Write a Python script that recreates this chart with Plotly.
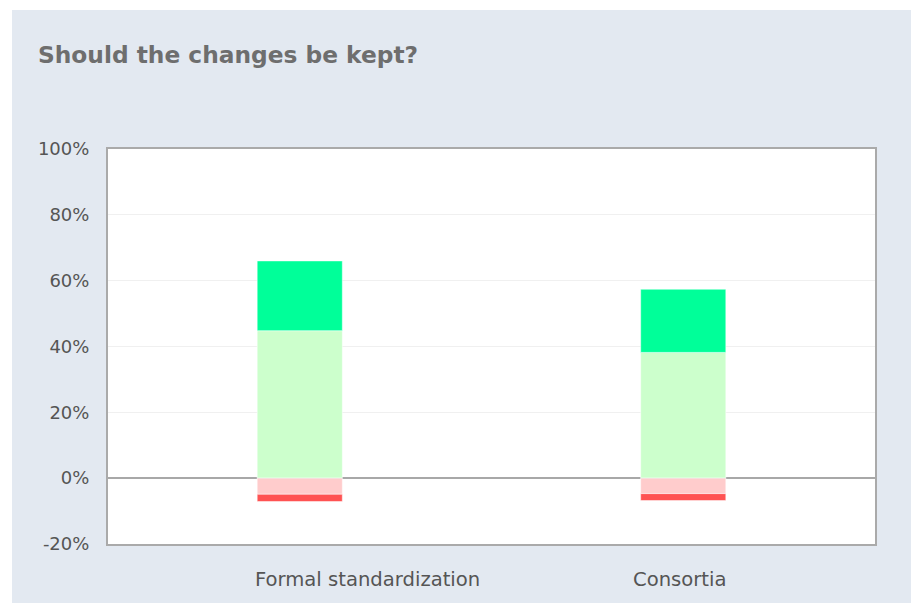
import plotly.graph_objects as go

categories = ["Formal standardization", "Consortia"]
keep_yes = [44.8, 38.2]          # light green, stacked from zero
keep_strong_yes = [21.2, 19.2]   # dark green, on top
keep_no = [-4.9, -4.7]           # pink, below zero
keep_strong_no = [-2.2, -2.1]    # red, under the pink

y_ticks = [-20, 0, 20, 40, 60, 80, 100]
y_tick_labels = ["-20%", "0%", "20%", "40%", "60%", "80%", "100%"]

# horizontal nudge of each category caption relative to its bar
label_shift = [68, -4]

FONT = "DejaVu Sans, sans-serif"
BAR_W = 0.222

fig = go.Figure()
series = [
    (keep_yes, "#ccffcc"),
    (keep_strong_yes, "#00ff99"),
    (keep_no, "#ffcccc"),
    (keep_strong_no, "#ff5252"),
]
for vals, color in series:
    fig.add_trace(go.Bar(
        x=categories, y=vals, width=BAR_W,
        marker=dict(color=color, line=dict(color="rgba(255,255,255,0.5)", width=1)),
        hoverinfo="skip", showlegend=False,
    ))

for cat, dx in zip(categories, label_shift):
    fig.add_annotation(
        x=cat, xref="x", y=0, yref="paper",
        text=cat, showarrow=False,
        xanchor="center", yanchor="top", xshift=dx, yshift=-22,
        font=dict(family=FONT, size=19.6, color="#555555"),
    )

W, H = 915, 603
ml, mr, mt, mb = 108, 40, 149, 59
pw, ph = W - ml - mr, H - mt - mb


def px_x(p):
    return (p - ml) / pw


def px_y(p):
    return (H - mb - p) / ph


fig.update_layout(
    width=W, height=H,
    margin=dict(l=ml, r=mr, t=mt, b=mb, pad=0),
    barmode="relative",
    paper_bgcolor="white",
    plot_bgcolor="white",
    font=dict(family=FONT, color="#555555", size=18),
    title=dict(
        text="<b>Should the changes be kept?</b>",
        x=38 / W, xanchor="left", xref="container",
        y=1 - 55 / H, yanchor="middle", yref="container",
        font=dict(family=FONT, size=23.3, color="#6e6e6e"),
    ),
    xaxis=dict(
        range=[-0.5, 1.5], showgrid=False, zeroline=False,
        showline=True, linecolor="#aaaaaa", linewidth=2, mirror=True,
        ticks="", showticklabels=False,
    ),
    yaxis=dict(
        range=[-20, 100], tickvals=y_ticks, ticktext=y_tick_labels,
        showgrid=True, gridcolor="#f0f0f0", gridwidth=1,
        zeroline=True, zerolinecolor="#a8a8a8", zerolinewidth=2,
        showline=True, linecolor="#aaaaaa", linewidth=2, mirror=True,
        ticks="", tickfont=dict(size=18, color="#555555"),
        ticklabelstandoff=13,
    ),
    shapes=[
        dict(type="rect", xref="paper", yref="paper", layer="below",
             x0=px_x(12), x1=px_x(911), y0=px_y(603), y1=px_y(10),
             fillcolor="#e3e9f1", line=dict(width=0)),
        dict(type="rect", xref="paper", yref="paper", layer="below",
             x0=0, x1=1, y0=0, y1=1,
             fillcolor="white", line=dict(width=0)),
    ],
)

fig.write_html("out.html")
